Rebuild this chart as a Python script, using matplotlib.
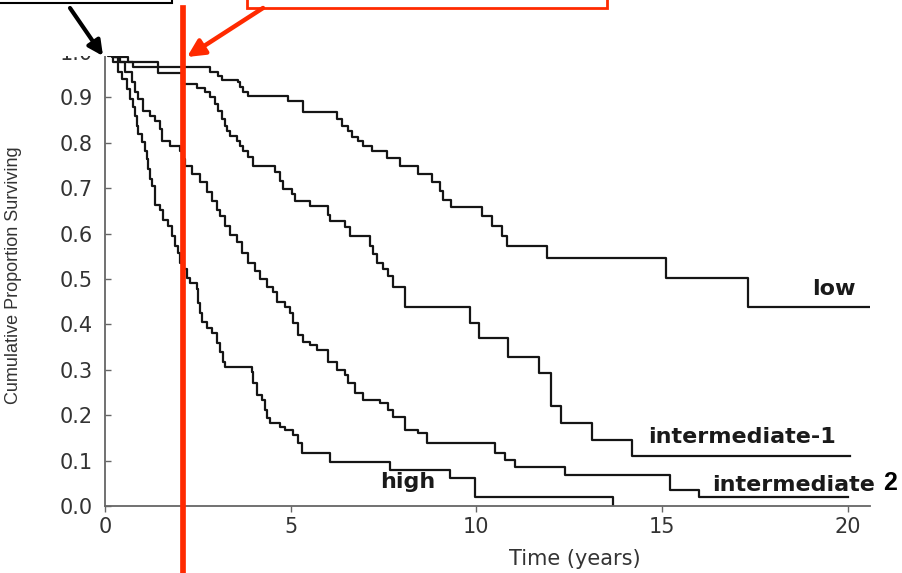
import numpy as np
import matplotlib
matplotlib.use("Agg")
import matplotlib.pyplot as plt
from matplotlib.patches import Rectangle, FancyArrowPatch

# Kaplan-Meier curves: time of each drop (years) and new level
low_t = [0, 0.27, 0.62, 1.43, 2.83, 3.04, 3.15, 3.58, 3.63, 3.71, 3.85, 4.93, 5.33,
         6.24, 6.38, 6.54, 6.65, 6.81, 6.94, 7.19, 7.59, 7.94, 8.43, 8.80, 9.02,
         9.10, 9.31, 10.15, 10.42, 10.69, 10.82, 11.90, 15.10, 17.31, 20.6]
low_s = [1.0, 0.989, 0.978, 0.967, 0.956, 0.947, 0.938, 0.934, 0.923, 0.912, 0.903,
         0.892, 0.868, 0.852, 0.837, 0.826, 0.812, 0.803, 0.792, 0.781, 0.766,
         0.748, 0.731, 0.713, 0.693, 0.675, 0.658, 0.638, 0.616, 0.594, 0.572,
         0.547, 0.503, 0.439, 0.439]

int1_t = [0, 0.19, 0.40, 0.75, 1.43, 2.07, 2.48, 2.69, 2.83, 2.96, 3.04, 3.15, 3.23,
          3.28, 3.36, 3.55, 3.63, 3.71, 3.85, 3.98, 4.58, 4.71, 4.79, 5.03, 5.11,
          5.52, 6.00, 6.06, 6.46, 6.59, 7.13, 7.21, 7.32, 7.48, 7.62, 7.75, 8.08,
          9.83, 10.07, 10.85, 11.68, 12.01, 12.27, 13.11, 14.19, 20.05]
int1_s = [1.0, 0.989, 0.978, 0.967, 0.954, 0.929, 0.921, 0.912, 0.901, 0.885, 0.870,
          0.852, 0.837, 0.826, 0.815, 0.804, 0.792, 0.781, 0.768, 0.748, 0.735,
          0.715, 0.698, 0.687, 0.671, 0.660, 0.642, 0.627, 0.614, 0.594, 0.572,
          0.554, 0.536, 0.521, 0.506, 0.483, 0.439, 0.404, 0.369, 0.329, 0.294,
          0.221, 0.183, 0.146, 0.110, 0.110]

int2_t = [0, 0.22, 0.35, 0.54, 0.73, 0.81, 0.89, 1.02, 1.21, 1.35, 1.48, 1.53, 1.75,
          2.02, 2.07, 2.15, 2.34, 2.56, 2.75, 2.88, 3.01, 3.10, 3.23, 3.36, 3.55,
          3.69, 3.85, 4.04, 4.17, 4.36, 4.52, 4.63, 4.85, 4.98, 5.06, 5.20, 5.33,
          5.52, 5.71, 6.00, 6.24, 6.46, 6.54, 6.73, 6.94, 7.40, 7.62, 7.75, 8.08,
          8.43, 8.67, 10.50, 10.77, 11.04, 12.38, 15.21, 16.0, 20.0]
int2_s = [1.0, 0.989, 0.978, 0.956, 0.934, 0.912, 0.896, 0.870, 0.859, 0.848, 0.830,
          0.804, 0.792, 0.781, 0.764, 0.748, 0.731, 0.713, 0.691, 0.671, 0.653,
          0.638, 0.616, 0.598, 0.581, 0.558, 0.536, 0.517, 0.499, 0.483, 0.472,
          0.450, 0.439, 0.426, 0.404, 0.377, 0.362, 0.355, 0.344, 0.318, 0.300,
          0.289, 0.272, 0.249, 0.234, 0.227, 0.212, 0.196, 0.168, 0.161, 0.139,
          0.117, 0.102, 0.086, 0.068, 0.035, 0.020, 0.020]

high_t = [0, 0.08, 0.22, 0.35, 0.46, 0.59, 0.67, 0.75, 0.81, 0.86, 0.89, 1.00, 1.08,
          1.13, 1.16, 1.21, 1.27, 1.35, 1.48, 1.56, 1.70, 1.80, 1.88, 1.97, 2.02,
          2.10, 2.21, 2.29, 2.48, 2.50, 2.56, 2.61, 2.75, 2.88, 3.01, 3.10, 3.18,
          3.23, 3.96, 3.98, 4.09, 4.23, 4.31, 4.36, 4.44, 4.71, 4.85, 5.06, 5.20,
          5.30, 6.06, 7.67, 9.29, 9.96, 13.67]
high_s = [1.0, 0.991, 0.978, 0.956, 0.940, 0.918, 0.896, 0.879, 0.859, 0.836, 0.819,
          0.801, 0.781, 0.764, 0.742, 0.720, 0.704, 0.664, 0.653, 0.631, 0.616,
          0.594, 0.572, 0.558, 0.536, 0.521, 0.503, 0.492, 0.477, 0.448, 0.426,
          0.406, 0.393, 0.382, 0.360, 0.340, 0.318, 0.307, 0.296, 0.272, 0.245,
          0.234, 0.212, 0.194, 0.183, 0.174, 0.168, 0.157, 0.139, 0.117, 0.097,
          0.079, 0.062, 0.020, 0.0]

xticks = [0, 5, 10, 15, 20]
yticks = [0.0, 0.1, 0.2, 0.3, 0.4, 0.5, 0.6, 0.7, 0.8, 0.9, 1.0]
cut_time = 2.1   # hand-drawn red marker, sits just right of 2 years

fig = plt.figure(figsize=(9.03, 5.73), dpi=100)
ax = fig.add_axes([105 / 903, 67 / 573, 765 / 903, 454 / 573])

for t, s in [(low_t, low_s), (int1_t, int1_s), (int2_t, int2_s), (high_t, high_s)]:
    ax.step(t, s, where="post", color="#151515", lw=1.6, zorder=2)

ax.set_xlim(0, 20.6)
ax.set_ylim(0, 1.0)
ax.set_xticks(xticks)
ax.set_xticklabels([str(v) for v in xticks], fontsize=15, color="#333333",
                   family="DejaVu Sans")
ax.set_yticks(yticks)
ax.set_yticklabels(["%.1f" % v for v in yticks], fontsize=15, color="#333333",
                   family="DejaVu Sans")
ax.tick_params(axis="x", direction="out", length=4, width=1, color="#666666", pad=4)
ax.tick_params(axis="y", direction="in", length=4, width=1, color="#666666", pad=9)
for side in ["top", "right"]:
    ax.spines[side].set_visible(False)
for side in ["left", "bottom"]:
    ax.spines[side].set_color("#666666")
    ax.spines[side].set_linewidth(1.3)

ax.set_xlabel("Time (years)", fontsize=15, color="#333333", family="DejaVu Sans")
ax.xaxis.set_label_coords(0.614, -0.095)
ax.set_ylabel("Cumulative Proportion Surviving", fontsize=13, color="#333333",
              family="Liberation Sans")
ax.yaxis.set_label_coords(-0.108, 0.509)

# curve labels
lab = dict(fontsize=16, fontweight="bold", color="#1a1a1a", family="DejaVu Sans",
           va="center", ha="left")
ax.text(19.03, 0.478, "low", **lab)
ax.text(14.62, 0.152, "intermediate-1", **lab)
ax.text(16.34, 0.046, "intermediate", clip_on=False, **lab)
ax.text(7.40, 0.053, "high", **lab)
ax.text(20.95, 0.050, "2", fontsize=18, fontweight="bold", color="black",
        family="Liberation Sans", va="center", ha="left", clip_on=False)

# top of the chart is cropped away
ax.add_patch(Rectangle((0, 517 / 573), 1, 0.2, transform=fig.transFigure,
                       facecolor="white", edgecolor="none", clip_on=False, zorder=3))

# red marker line
ax.axvline(cut_time, ymin=-0.148, ymax=1.097, color="#ff2a00", lw=4.1,
           clip_on=False, zorder=4)

# overlay boxes and arrows (slide annotations)
fig.add_artist(Rectangle((-5, 570), 177, 20, transform=None, facecolor="white",
                         edgecolor="black", lw=1.5, zorder=5))
fig.add_artist(Rectangle((247, 565), 360, 20, transform=None, facecolor="white",
                         edgecolor="#ff2a00", lw=2, zorder=5))
fig.add_artist(FancyArrowPatch((70, 565), (103, 517), transform=None,
                               arrowstyle="-|>", mutation_scale=22, lw=3,
                               color="black", shrinkA=0, shrinkB=0, zorder=6))
fig.add_artist(FancyArrowPatch((263, 565), (187, 516), transform=None,
                               arrowstyle="-|>", mutation_scale=26, lw=3.2,
                               color="#ff2a00", shrinkA=0, shrinkB=0, zorder=6))

fig.savefig("out.png", dpi=100)
